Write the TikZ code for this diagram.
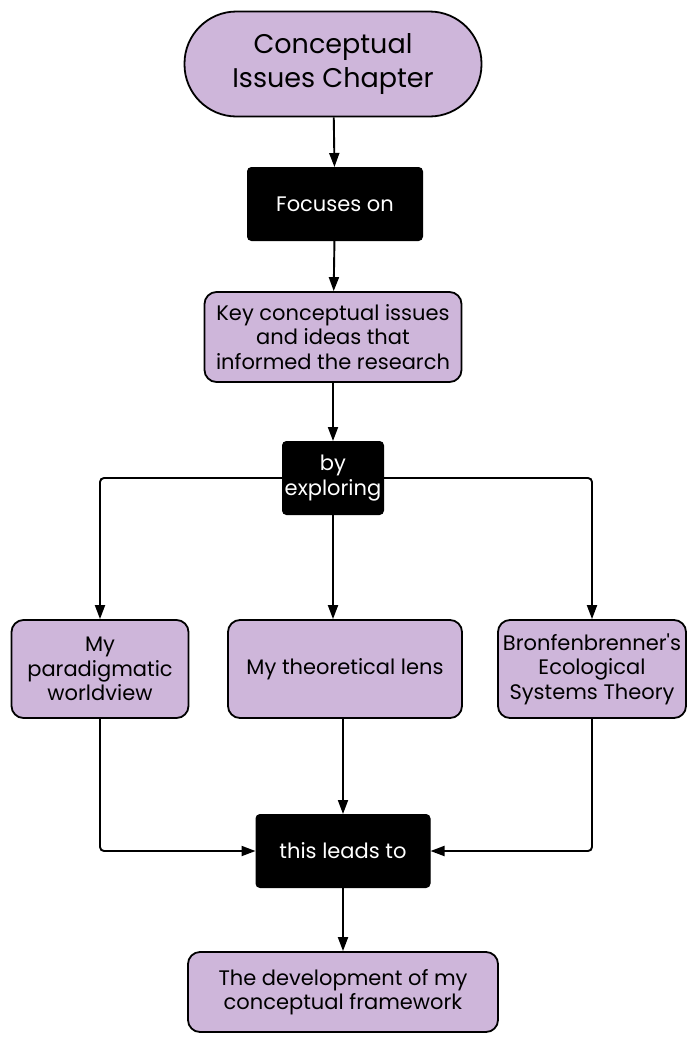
\documentclass[tikz,border=0pt]{standalone}
\usepackage{fontspec}
\setmainfont{Poppins}
\usetikzlibrary{arrows.meta}
\definecolor{lav}{RGB}{206,182,218}
\begin{document}
\begin{tikzpicture}[x=1pt,y=-1pt,
  softbox/.style={draw=black, line width=1.8pt, fill=lav, rounded corners=12pt,
    align=center, inner sep=0pt, font=\fontsize{21}{24.5}\selectfont},
  darkbox/.style={draw=black, line width=1pt, fill=black, text=white, rounded corners=4pt,
    align=center, inner sep=0pt, font=\fontsize{21}{24.5}\selectfont},
  link/.style={line width=1.9pt, -{Triangle[length=14pt,width=10pt]}}]
\useasboundingbox (0,0) rectangle (687,1039);
\fill[white] (0,0) rectangle (687,1039);

% chain of boxes down the centre
\node[softbox, minimum width=297pt, minimum height=105pt, rounded corners=52pt,
  font=\fontsize{27}{34}\selectfont] (chapter) at (333,64) {Conceptual\\Issues Chapter};
\node[darkbox, minimum width=175pt, minimum height=73pt] (focus) at (335,204) {Focuses on};
\node[softbox, minimum width=257pt, minimum height=90pt] (issues) at (333,337)
  {Key conceptual issues\\and ideas that\\informed the research};
\node[darkbox, minimum width=101pt, minimum height=73pt] (explore) at (333,478) {by\\exploring};

% the three explored topics
\node[softbox, minimum width=177pt, minimum height=98pt] (worldview) at (100,669)
  {My\\paradigmatic\\worldview};
\node[softbox, minimum width=234pt, minimum height=98pt] (lens) at (345,669)
  {My theoretical lens};
\node[softbox, minimum width=188pt, minimum height=98pt] (bronf) at (592,669)
  {Bronfenbrenner\textquotesingle s\\Ecological\\Systems Theory};

% result
\node[darkbox, minimum width=174pt, minimum height=73pt] (leads) at (343,851) {this leads to};
\node[softbox, minimum width=310pt, minimum height=80pt] (framework) at (343,992)
  {The development of my\\conceptual framework};

% connectors
\draw[link] (chapter) -- (focus);
\draw[link] (focus) -- (issues);
\draw[link] (issues) -- (explore);
\draw[link, rounded corners=4pt] (explore.west) -| (worldview.north);
\draw[link, rounded corners=4pt] (explore.east) -| (bronf.north);
\draw[link] (explore.south) -- (explore.south |- lens.north);
\draw[link] (lens.south -| leads.north) -- (leads.north);
\draw[link, rounded corners=4pt] (worldview.south) |- (leads.west);
\draw[link, rounded corners=4pt] (bronf.south) |- (leads.east);
\draw[link] (leads) -- (framework);
\end{tikzpicture}
\end{document}
